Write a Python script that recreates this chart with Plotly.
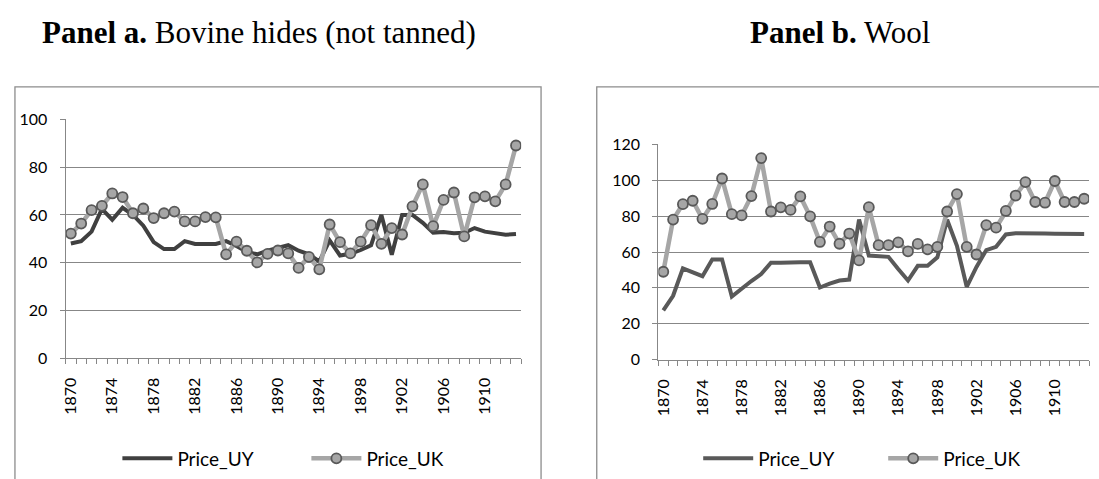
import plotly.graph_objects as go

# Years on the category axis (one point per year)
years = [1870, 1871, 1872, 1873, 1874, 1875, 1876, 1877, 1878, 1879,
         1880, 1881, 1882, 1883, 1884, 1885, 1886, 1887, 1888, 1889,
         1890, 1891, 1892, 1893, 1894, 1895, 1896, 1897, 1898, 1899,
         1900, 1901, 1902, 1903, 1904, 1905, 1906, 1907, 1908, 1909,
         1910, 1911, 1912, 1913]

tick_years = [1870, 1874, 1878, 1882, 1886, 1890, 1894, 1898, 1902, 1906, 1910]
tick_text = [str(y) for y in tick_years]

# Panel a: bovine hides (not tanned)
hides_uy = [48.0, 49.0, 53.0, 62.5, 58.0, 63.0, 60.0, 55.5, 48.6, 45.7,
            45.7, 49.0, 47.8, 47.7, 47.8, 49.0, 47.0, 44.5, 43.5, 45.0,
            46.0, 47.3, 45.0, 43.5, 40.5, 49.3, 43.0, 43.7, 45.3, 47.3,
            60.0, 43.3, 60.0, 60.0, 56.7, 52.6, 52.8, 52.3, 52.5, 54.5,
            53.0, 52.5, 51.7, 52.0]
hides_uk = [52.2, 56.4, 62.0, 63.8, 69.0, 67.5, 60.7, 62.7, 58.7, 60.7,
            61.4, 57.3, 57.3, 59.1, 59.0, 43.5, 48.8, 45.0, 40.1, 43.7,
            45.1, 43.9, 37.8, 42.4, 37.2, 56.0, 48.6, 43.9, 48.8, 55.7,
            47.9, 54.5, 51.8, 63.6, 72.8, 55.3, 66.3, 69.4, 51.0, 67.4,
            67.8, 65.7, 72.8, 89.1]

# Panel b: wool
wool_uy = [27.5, 35.6, 50.9, 48.6, 46.5, 55.8, 55.8, 35.2, 39.7, 43.8,
           47.7, 54.0, 54.0, 54.3, 54.3, 54.3, 40.2, 42.4, 44.1, 44.6,
           78.1, 58.0, 57.5, 57.3, 50.5, 44.1, 52.3, 52.3, 57.0, 78.0,
           63.5, 40.6, 51.7, 61.1, 62.9, 69.8, 70.4, 70.5, 70.3, 70.3,
           70.2, 70.2, 70.4, 70.1]
wool_uk = [49.0, 78.1, 86.7, 88.6, 78.5, 86.8, 101.0, 81.1, 80.4, 91.2,
           112.4, 82.6, 84.9, 83.5, 91.0, 79.9, 65.6, 74.2, 64.6, 70.3,
           55.3, 85.0, 63.8, 63.8, 65.4, 60.4, 64.5, 61.5, 62.9, 82.6,
           92.3, 62.9, 58.6, 75.0, 73.6, 82.9, 91.5, 99.0, 87.9, 87.5,
           99.6, 87.9, 87.9, 89.7]

W, H = 1099, 479
GRID = "#878787"
LIGHT = "#a6a6a6"
MARK_EDGE = "#595959"
FONT = "Lato"


def px(x):
    return x / W


def py(y):
    return 1 - y / H


fig = go.Figure()

# Panel a traces
fig.add_trace(go.Scatter(x=years, y=hides_uy, name="Price_UY", mode="lines",
                         line=dict(color="#404040", width=4),
                         xaxis="x", yaxis="y", legend="legend"))
fig.add_trace(go.Scatter(x=years, y=hides_uk, name="Price_UK", mode="lines+markers",
                         line=dict(color=LIGHT, width=4.5),
                         marker=dict(symbol="circle", size=10, color=LIGHT,
                                     line=dict(color=MARK_EDGE, width=1.8)),
                         xaxis="x", yaxis="y", legend="legend"))

# Panel b traces
fig.add_trace(go.Scatter(x=years, y=wool_uy, name="Price_UY", mode="lines",
                         line=dict(color="#595959", width=4),
                         xaxis="x2", yaxis="y2", legend="legend2"))
fig.add_trace(go.Scatter(x=years, y=wool_uk, name="Price_UK", mode="lines+markers",
                         line=dict(color=LIGHT, width=4.5),
                         marker=dict(symbol="circle", size=10, color=LIGHT,
                                     line=dict(color=MARK_EDGE, width=1.8)),
                         xaxis="x2", yaxis="y2", legend="legend2"))

tickfont = dict(family=FONT, size=16, color="#000000")


def xaxis_cfg(domain, anchor):
    return dict(domain=domain, anchor=anchor, type="linear",
                range=[1869.5, 1913.5], tickvals=tick_years, ticktext=tick_text,
                tickangle=-90, ticks="", showgrid=False, zeroline=False,
                showline=True, linecolor=GRID, linewidth=1.3,
                tickfont=tickfont, ticklabelstandoff=12,
                minor=dict(ticks="outside", ticklen=5, tickcolor=GRID,
                           tickwidth=1.2, tick0=1869.5, dtick=1, showgrid=False),
                fixedrange=True)


def yaxis_cfg(domain, anchor, top, step):
    return dict(domain=domain, anchor=anchor, range=[0, top], dtick=step,
                tick0=0, showgrid=True, gridcolor=GRID, gridwidth=1.3,
                zeroline=False, showline=True, linecolor=GRID, linewidth=1.3,
                ticks="outside", ticklen=5, tickcolor=GRID, tickwidth=1.2,
                tickfont=tickfont, ticklabelstandoff=9, fixedrange=True)


legend_common = dict(orientation="h", font=dict(family=FONT, size=19, color="#000000"),
                     bgcolor="rgba(0,0,0,0)", borderwidth=0, xanchor="left",
                     yanchor="middle", itemwidth=50, entrywidthmode="pixels",
                     tracegroupgap=0, itemclick=False, itemdoubleclick=False)

fig.update_layout(
    width=W, height=H, autosize=False,
    margin=dict(l=0, r=0, t=0, b=0),
    paper_bgcolor="white", plot_bgcolor="white",
    xaxis=xaxis_cfg([px(60), px(518)], "y"),
    yaxis=yaxis_cfg([py(362.5), py(114)], "x", 100, 20),
    xaxis2=xaxis_cfg([px(656), px(1089)], "y2"),
    yaxis2=yaxis_cfg([py(364), py(140)], "x2", 120, 20),
    legend=dict(legend_common, x=px(112), y=py(467), entrywidth=124),
    legend2=dict(legend_common, x=px(696), y=py(467), entrywidth=120),
    shapes=[
        dict(type="rect", xref="paper", yref="paper",
             x0=px(9), x1=px(538), y0=-0.1, y1=py(80),
             line=dict(color="#8c8c8c", width=1.3), fillcolor="rgba(0,0,0,0)",
             layer="below"),
        dict(type="rect", xref="paper", yref="paper",
             x0=px(594), x1=1.05, y0=-0.1, y1=py(80),
             line=dict(color="#8c8c8c", width=1.3), fillcolor="rgba(0,0,0,0)",
             layer="below"),
    ],
    annotations=[
        dict(text="<b>Panel a.</b> Bovine hides (not tanned)", xref="paper", yref="paper",
             x=px(34), y=py(23), xanchor="left", yanchor="middle", showarrow=False,
             font=dict(family="Liberation Serif", size=31, color="#000000")),
        dict(text="<b>Panel b.</b> Wool", xref="paper", yref="paper",
             x=px(746), y=py(23), xanchor="left", yanchor="middle", showarrow=False,
             font=dict(family="Liberation Serif", size=31, color="#000000")),
    ],
)

fig.write_html("out.html", config=dict(displayModeBar=False))
